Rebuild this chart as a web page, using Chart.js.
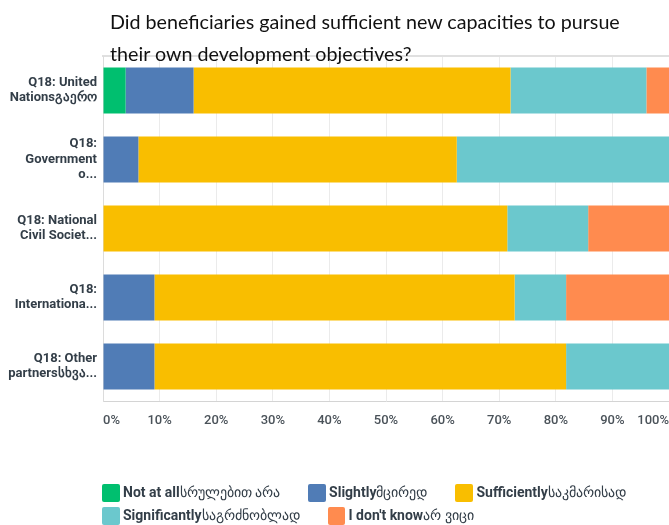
<!DOCTYPE html>
<html>
<head>
<meta charset="utf-8">
<script src="https://cdn.jsdelivr.net/npm/chart.js@4/dist/chart.umd.min.js"></script>
<style>
  body { margin: 0; background: #fff; width: 669px; height: 525px; overflow: hidden; position: relative; }
  #chart { position: absolute; left: 0; top: 0; }
  #title { position: absolute; left: 110px; top: 6px; font-family: Lato, sans-serif; font-size: 19.7px; line-height: 31.7px; color: #111; }
  #legend { position: absolute; left: 102px; top: 484px; width: 567px; display: flex; flex-wrap: wrap; column-gap: 28px; row-gap: 5.5px; font-family: Roboto, sans-serif; font-size: 14px; color: #333e48; }
  .item { display: flex; align-items: center; height: 17.5px; line-height: 17.5px; white-space: nowrap; }
  .box { width: 17.5px; height: 17.5px; border-radius: 2px; margin-right: 3.5px; }
  .item b { font-weight: 700; }
  .item span { font-weight: 400; }
</style>
</head>
<body>
<canvas id="chart" width="669" height="525"></canvas>
<div id="title">Did beneficiaries gained sufficient new capacities to pursue<br>their own development objectives?</div>
<div id="legend"></div>
<script>
// categories (each one wrapped to its axis lines)
var categories = [
  ['Q18: United', 'Nationsგაერო'],
  ['Q18:', 'Government', 'o...'],
  ['Q18: National', 'Civil Societ...'],
  ['Q18:', 'Internationa...'],
  ['Q18: Other', 'partnersსხვა...']
];

// answer options, english + georgian part
var seriesNames = ['Not at all', 'Slightly', 'Sufficiently', 'Significantly', 'I don\'t know'];
var seriesNamesKa = ['სრულებით არა', 'მცირედ', 'საკმარისად', 'საგრძნობლად', 'არ ვიცი'];
var seriesColors = ['#00bf6f', '#507cb6', '#f9be00', '#6bc8cd', '#ff8b4f'];

// percentages per category
var notAtAll      = [4, 0, 0, 0, 0];
var slightly      = [12, 6.25, 0, 9.09, 9.09];
var sufficiently  = [56, 56.25, 71.43, 63.64, 72.73];
var significantly = [24, 37.5, 14.29, 9.09, 18.18];
var dontKnow      = [4, 0, 14.29, 18.18, 0];

var xTickLabels = ['0%', '10%', '20%', '30%', '40%', '50%', '60%', '70%', '80%', '90%', '100%'];

var seriesValues = [notAtAll, slightly, sufficiently, significantly, dontKnow];

var datasets = seriesValues.map(function (values, i) {
  return {
    label: seriesNames[i] + seriesNamesKa[i],
    data: values,
    backgroundColor: seriesColors[i],
    borderWidth: 0,
    categoryPercentage: 1,
    barPercentage: 0.67
  };
});

var config = {
  type: 'bar',
  data: { labels: categories, datasets: datasets },
  options: {
    responsive: false,
    animation: false,
    indexAxis: 'y',
    layout: { padding: { top: 56, right: 0, left: 0, bottom: 0 } },
    plugins: {
      legend: { display: false },
      title: { display: false },
      tooltip: { enabled: false }
    },
    scales: {
      x: {
        stacked: true,
        min: 0,
        max: 100,
        // invisible tick marks give the label gap (tick padding would also pad the right edge)
        grid: { color: '#ebebeb', lineWidth: 1, drawTicks: true, tickLength: 12, tickColor: 'rgba(0,0,0,0)' },
        border: { color: '#d4d4d4', width: 1 },
        ticks: {
          stepSize: 10,
          align: 'inner',
          padding: 0,
          color: '#4a5259',
          font: { family: 'Roboto', size: 13, weight: '500' },
          callback: function (value, index) { return xTickLabels[index]; }
        },
        afterFit: function (scale) { scale.height = 124; }
      },
      // thin frame line across the top of the plot
      xTop: {
        position: 'top',
        display: true,
        grid: { display: false, drawTicks: false },
        border: { display: true, color: '#e0e0e0', width: 2 },
        ticks: { display: false, padding: 0 }
      },
      y: {
        stacked: true,
        grid: { display: false, drawTicks: false },
        border: { color: '#dcdcdc', width: 1 },
        ticks: {
          padding: 6,
          color: '#333e48',
          font: { family: 'Roboto', size: 13, weight: 'bold', lineHeight: 1.18 }
        },
        afterFit: function (scale) { scale.width = 103; }
      }
    }
  }
};

new Chart(document.getElementById('chart').getContext('2d'), config);

// html legend so the english part can be bold and the georgian part regular
var legend = document.getElementById('legend');
seriesNames.forEach(function (name, i) {
  var item = document.createElement('div');
  item.className = 'item';
  item.innerHTML = '<div class="box" style="background:' + seriesColors[i] + '"></div><b>' + name + '</b><span>' + seriesNamesKa[i] + '</span>';
  legend.appendChild(item);
});
</script>
</body>
</html>
